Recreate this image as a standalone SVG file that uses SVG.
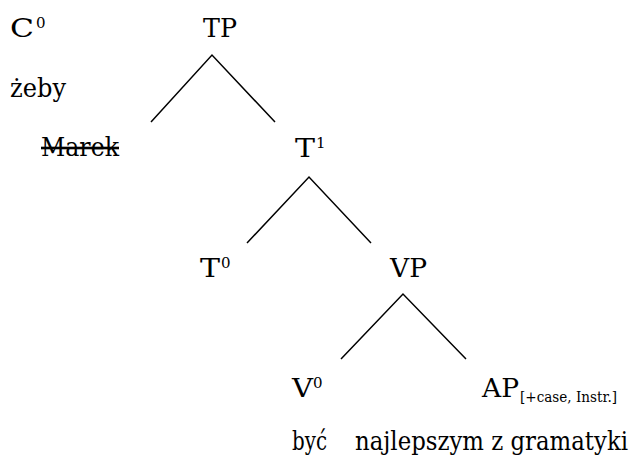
<svg xmlns="http://www.w3.org/2000/svg" width="633" height="464" viewBox="0 0 633 464">
<style>
text{font-family:"DejaVu Serif","Liberation Serif",serif;fill:#000;font-size:26px}
.sup{font-size:15px}
.sub{font-size:15px}
.edge{stroke:#000;stroke-width:1.5;fill:none}
</style>
<rect width="633" height="464" fill="#fff"/>
<g id="connectors">
<path class="edge" d="M151,122 L212,55 L275,122"/>
<path class="edge" d="M247,243 L309,177 L371,243"/>
<path class="edge" d="M341,359 L403,294 L466,359"/>
</g>
<g id="C0"><text x="10" y="37" textLength="24" lengthAdjust="spacingAndGlyphs">C</text><text class="sup" x="36" y="28">0</text></g>
<g id="zeby"><text x="10" y="97" textLength="56" lengthAdjust="spacingAndGlyphs">żeby</text></g>
<g id="TP"><text x="203" y="37" textLength="34" lengthAdjust="spacingAndGlyphs">TP</text></g>
<g id="Marek"><text x="41" y="156" text-decoration="line-through" textLength="78" lengthAdjust="spacingAndGlyphs">Marek</text></g>
<g id="T1"><text x="295" y="157" textLength="20" lengthAdjust="spacingAndGlyphs">T</text><text class="sup" x="316" y="148">1</text></g>
<g id="T0"><text x="200" y="277" textLength="20" lengthAdjust="spacingAndGlyphs">T</text><text class="sup" x="221" y="268">0</text></g>
<g id="VP"><text x="390" y="277" textLength="37" lengthAdjust="spacingAndGlyphs">VP</text></g>
<g id="V0"><text x="292" y="397" textLength="21" lengthAdjust="spacingAndGlyphs">V</text><text class="sup" x="313" y="388">0</text></g>
<g id="AP"><text x="482" y="397" textLength="37" lengthAdjust="spacingAndGlyphs">AP</text><text class="sub" x="520" y="402" textLength="97" lengthAdjust="spacingAndGlyphs">[+case, Instr.]</text></g>
<g id="words"><text x="292" y="450" textLength="35" lengthAdjust="spacingAndGlyphs">być</text><text x="355" y="450" textLength="273" lengthAdjust="spacingAndGlyphs">najlepszym z gramatyki</text></g>
</svg>
